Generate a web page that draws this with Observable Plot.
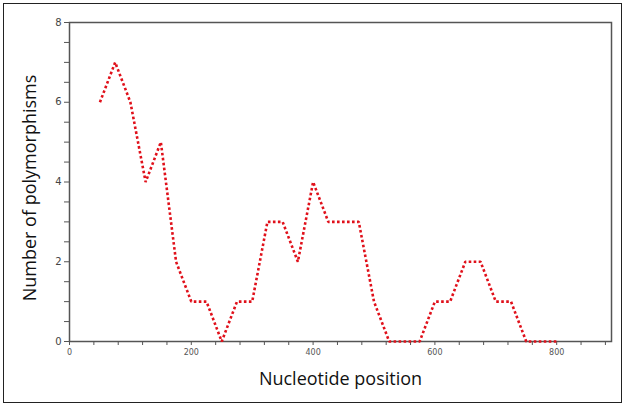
<!DOCTYPE html>
<html>
<head>
<meta charset="utf-8">
<script src="https://cdn.jsdelivr.net/npm/d3@7"></script>
<script src="https://cdn.jsdelivr.net/npm/@observablehq/plot@0.6"></script>
<style>
  html, body { margin: 0; padding: 0; background: #fff; }
  #wrap { position: relative; width: 626px; height: 407px; }
  #box { position: absolute; left: 3px; top: 3px; width: 617px; height: 398px; border: 1.5px solid #222; pointer-events: none; }
</style>
</head>
<body>
<div id="wrap"><div id="box"></div></div>
<script>
const positions = [50, 75, 100, 125, 150, 175, 200, 225, 250, 275, 300, 325, 350, 375, 400, 425, 450, 475, 500, 525, 550, 575, 600, 625, 650, 675, 700, 725, 750, 775, 800];
const polymorphisms = [6, 7, 6, 4, 5, 2, 1, 1, 0, 1, 1, 3, 3, 2, 4, 3, 3, 3, 1, 0, 0, 0, 1, 1, 2, 2, 1, 1, 0, 0, 0];
const xTicks = d3.range(0, 890, 40);
const xLabels = [0, 200, 400, 600, 800];
const yTicks = d3.range(0, 8.01, 0.5);
const yLabels = [0, 2, 4, 6, 8];
const xTitle = "Nucleotide position";
const yTitle = "Number of polymorphisms";

const data = positions.map((p, i) => ({x: p, y: polymorphisms[i]}));

const chart = Plot.plot({
  width: 626,
  height: 407,
  marginLeft: 69,
  marginTop: 22,
  marginRight: 15,
  marginBottom: 66,
  style: {fontFamily: "'DejaVu Sans', sans-serif", background: "transparent"},
  x: {domain: [0, 890]},
  y: {domain: [0, 8]},
  marks: [
    Plot.frame({stroke: "#555", strokeWidth: 1.5}),
    Plot.axisX({ticks: xTicks, tickSize: 4, tickFormat: d => xLabels.includes(d) ? d : "", stroke: "#555", fill: "#555", fontSize: 8, tickPadding: 4, label: null}),
    Plot.axisY({ticks: yTicks, tickSize: 5, tickFormat: d => yLabels.includes(d) ? d : "", stroke: "#555", fill: "#444", fontSize: 10, tickPadding: 3, label: null}),
    Plot.line(data, {x: "x", y: "y", stroke: "#e0101a", strokeWidth: 2.6, strokeLinecap: "butt", strokeLinejoin: "miter", strokeDasharray: "2.6,2.4"}),
    Plot.text([xTitle], {frameAnchor: "bottom", dy: 43, fontSize: 18, fill: "#111", fontFamily: "'Open Sans', sans-serif"}),
    Plot.text([yTitle], {frameAnchor: "left", textAnchor: "middle", dx: -39, dy: 6, rotate: -90, fontSize: 18, fill: "#111", fontFamily: "'Open Sans', sans-serif"})
  ]
});
document.getElementById("wrap").prepend(chart);
</script>
</body>
</html>
